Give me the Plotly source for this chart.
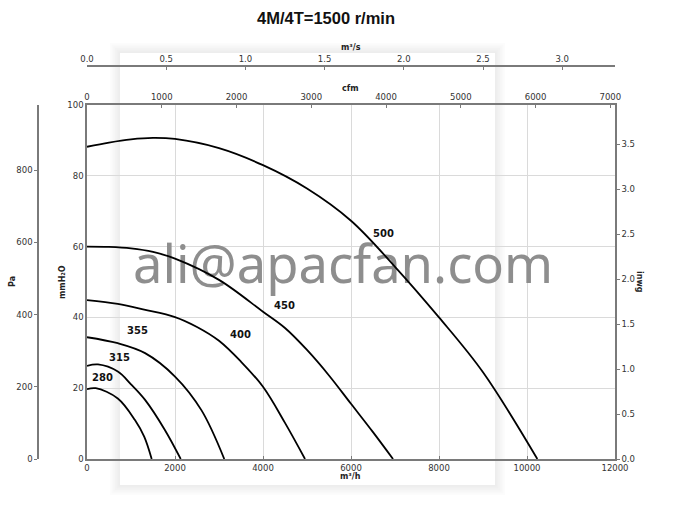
import plotly.graph_objects as go

# ---------------- data ----------------
title_text = "4M/4T=1500 r/min"
watermark = "ali@apacfan.com"

sizes = ["500", "450", "400", "355", "315", "280"]

q_500 = [0, 500, 1000, 1500, 2000, 3000, 4000, 5000, 6000, 7000, 8000, 9000, 10235]
p_500 = [88.2, 89.4, 90.3, 90.7, 90.4, 87.8, 83.0, 76.4, 67.3, 54.3, 40.0, 24.5, 0]

q_450 = [0, 500, 1000, 1500, 2000, 3000, 4000, 4500, 5000, 5500, 6000, 6500, 6955]
p_450 = [60.0, 59.9, 59.5, 58.5, 56.6, 50.6, 41.6, 37.0, 30.8, 23.6, 15.6, 7.6, 0]

q_400 = [0, 700, 1300, 2000, 2500, 3000, 3500, 4000, 4500, 4955]
p_400 = [44.9, 43.8, 42.2, 40.1, 37.3, 33.4, 27.5, 20.4, 10.2, 0]

q_355 = [0, 700, 1320, 2000, 2600, 3120]
p_355 = [34.4, 32.7, 29.9, 23.3, 13.8, 0]

q_315 = [0, 250, 700, 1000, 1320, 1770, 2130]
p_315 = [26.3, 26.7, 24.7, 21.1, 16.7, 8.2, 0]

q_280 = [0, 200, 700, 1090, 1300, 1470]
p_280 = [19.7, 20.0, 17.1, 11.0, 6.3, 0]

curves_q = [q_500, q_450, q_400, q_355, q_315, q_280]
curves_p = [p_500, p_450, p_400, p_355, p_315, p_280]

# label anchor points (m3/h, mmH2O)
label_q = [6730, 4480, 3480, 1140, 735, 357]
label_p = [63.8, 43.5, 35.1, 36.2, 28.8, 22.9]

# axis tick values
m3h_ticks = [0, 2000, 4000, 6000, 8000, 10000, 12000]
cfm_ticks = [0, 1000, 2000, 3000, 4000, 5000, 6000, 7000]
m3s_ticks = [0.0, 0.5, 1.0, 1.5, 2.0, 2.5, 3.0]
mm_ticks = [0, 20, 40, 60, 80, 100]
pa_ticks = [0, 200, 400, 600, 800]
inwg_ticks = [0.0, 0.5, 1.0, 1.5, 2.0, 2.5, 3.0, 3.5]

# unit conversions
Q_MAX = 12000.0          # m3/h
P_MAX = 100.0            # mmH2O
M3H_PER_CFM = 1.699
M3H_PER_M3S = 3600.0
PA_PER_MM = 9.80665
MM_PER_INWG = 25.4

# ---------------- layout geometry ----------------
W, H = 686, 505
px_l, px_r, px_t, px_b = 87, 615, 105, 459
dom_x = [px_l / W, px_r / W]
dom_y = [(H - px_b) / H, (H - px_t) / H]

AX_COL = "#7a7a7a"
GRID_COL = "#dadada"
TICK_FONT = dict(family="DejaVu Sans", size=8.5, color="#333333")
LBL_FONT = dict(family="DejaVu Sans", size=8, color="#222222")

fig = go.Figure()

# watermark drawn first (beneath the curves)
fig.add_trace(go.Scatter(
    x=[5820], y=[53.3], mode="text", text=[watermark],
    textfont=dict(family="Noto Sans", size=52.5, color="#8e8e8e"),
    textposition="middle center", hoverinfo="skip", showlegend=False,
))

for q, p in zip(curves_q, curves_p):
    fig.add_trace(go.Scatter(
        x=q, y=p, mode="lines",
        line=dict(color="black", width=1.8, shape="spline", smoothing=1.0),
        hoverinfo="skip", showlegend=False,
    ))

# dummy traces to materialise secondary axes
for xa, ya in [("x2", "y"), ("x3", "y"), ("x", "y2"), ("x", "y3")]:
    fig.add_trace(go.Scatter(x=[None], y=[None], xaxis=xa, yaxis=ya,
                             mode="lines", showlegend=False, hoverinfo="skip"))

annotations = []
for name, lq, lp in zip(sizes, label_q, label_p):
    annotations.append(dict(
        x=lq, y=lp, xref="x", yref="y", text="<b>" + name + "</b>",
        xanchor="center", yanchor="middle",
        showarrow=False, font=dict(family="DejaVu Sans", size=10, color="#111111"),
    ))


def paper_label(px, py, text, font, angle=0):
    return dict(x=px / W, y=(H - py) / H, xref="paper", yref="paper", text=text,
                xanchor="center", yanchor="middle", showarrow=False,
                textangle=angle, font=font)


annotations += [
    paper_label(326, 18, "<b>" + title_text + "</b>",
                dict(family="Liberation Sans", size=16.5, color="#111111")),
    paper_label(351, 48, "<b>m³/s</b>", LBL_FONT),
    paper_label(351, 88, "<b>cfm</b>", LBL_FONT),
    paper_label(351, 476, "<b>m³/h</b>", LBL_FONT),
    paper_label(62, 282, "<b>mmH₂O</b>", LBL_FONT, -90),
    paper_label(12, 282, "<b>Pa</b>", LBL_FONT, -90),
    paper_label(640, 282, "<b>inwg</b>", LBL_FONT, 90),
]

# card with soft shadow (background decoration)
cx0, cx1, cy0, cy1 = 120, 495, 53, 485
shapes = []
for i in range(6, 0, -1):
    d = i * 1.7
    shapes.append(dict(type="rect", xref="paper", yref="paper", layer="below",
                       x0=(cx0 - d) / W, x1=(cx1 + d) / W,
                       y0=(H - cy1 - d) / H, y1=(H - cy0 + d) / H,
                       line=dict(width=0), fillcolor="rgba(0,0,0,0.011)"))
shapes.append(dict(type="rect", xref="paper", yref="paper", layer="below",
                   x0=cx0 / W, x1=cx1 / W, y0=(H - cy1) / H, y1=(H - cy0) / H,
                   line=dict(width=0), fillcolor="white"))

common_axis = dict(showline=True, linecolor=AX_COL, linewidth=1.5, zeroline=False,
                   tickfont=TICK_FONT, ticklen=3, tickcolor=AX_COL, automargin=False)

fig.update_layout(
    template="none",
    width=W, height=H,
    margin=dict(l=0, r=0, t=0, b=0),
    paper_bgcolor="white", plot_bgcolor="rgba(0,0,0,0)",
    showlegend=False,
    annotations=annotations,
    shapes=shapes,
    xaxis=dict(domain=dom_x, range=[0, Q_MAX], tickvals=m3h_ticks, tickformat="d",
               showgrid=True, gridcolor=GRID_COL, gridwidth=1,
               ticks="inside", anchor="y", **common_axis),
    xaxis2=dict(overlaying="x", side="top", anchor="y",
                range=[0, Q_MAX / M3H_PER_CFM], tickvals=cfm_ticks, tickformat="d",
                showgrid=False, ticks="inside", **common_axis),
    xaxis3=dict(overlaying="x", side="top", anchor="free", position=(H - 66) / H,
                range=[0, Q_MAX / M3H_PER_M3S], tickvals=m3s_ticks, tickformat=".1f",
                showgrid=False, ticks="inside", **common_axis),
    yaxis=dict(domain=dom_y, range=[0, P_MAX], tickvals=mm_ticks, tickformat="d",
               showgrid=True, gridcolor=GRID_COL, gridwidth=1,
               ticks="", anchor="x", **common_axis),
    yaxis2=dict(overlaying="y", side="left", anchor="free", position=38 / W,
                range=[0, P_MAX * PA_PER_MM], tickvals=pa_ticks, tickformat="d",
                showgrid=False, ticks="outside", **common_axis),
    yaxis3=dict(overlaying="y", side="right", anchor="x",
                range=[0, P_MAX / MM_PER_INWG], tickvals=inwg_ticks, tickformat=".1f",
                showgrid=False, ticks="outside", **common_axis),
)

fig.write_html("out.html", config={"displayModeBar": False},
               post_script="document.body.style.margin='0px';")
